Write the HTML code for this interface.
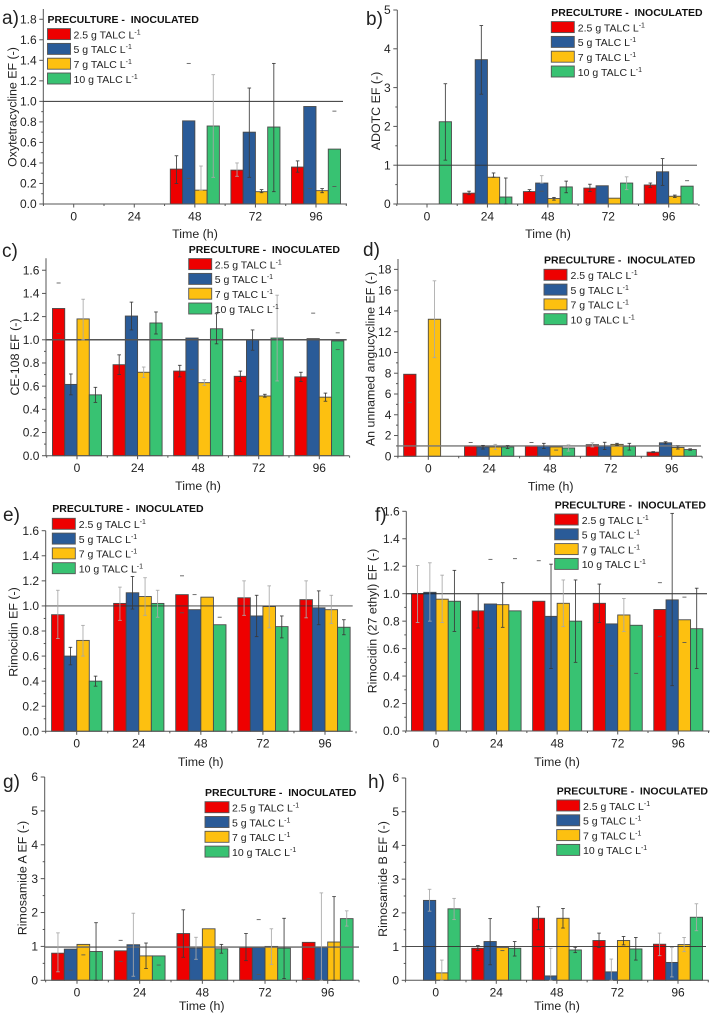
<!DOCTYPE html>
<html lang="en">
<head>
<meta charset="utf-8">
<title>Talc enhancement factors</title>
<style>
html,body{margin:0;padding:0;background:#fff}
svg{display:block;filter:blur(.35px)}
text{font-family:"Liberation Sans",Arial,sans-serif;fill:#222}
.letter{font-size:19px;fill:#222}
.ax{font-size:12.4px;text-anchor:middle}
.hd{font-size:10.5px;font-weight:bold;white-space:pre;fill:#111}
.en{font-size:10.5px;fill:#222}
.sup{font-size:7px}
.tk{font-size:12px}
.sw{stroke:#555;stroke-width:.9}
.r{fill:#ee0000}.b{fill:#2a5b98}.y{fill:#fdc010}.g{fill:#38c272}
</style>
</head>
<body>
<svg xmlns="http://www.w3.org/2000/svg" width="715" height="1016" viewBox="0 0 715 1016">
<rect width="715" height="1016" fill="#fff"/>

<g id="panel-a">
<text class="letter" x="2" y="24">a)</text>
<text class="ax" x="195" y="238">Time (h)</text>
<text class="ax" transform="translate(16.5,107) rotate(-90)">Oxytetracycline EF (-)</text>
<g transform="translate(47.5,19)">
<text class="hd" x="0" y="4">PRECULTURE -  INOCULATED</text>
<rect class="sw r" x="0" y="9.6" width="23" height="11"/><text class="en" x="26" y="19.4">2.5 g TALC L<tspan class="sup" dy="-4">-1</tspan></text>
<rect class="sw b" x="0" y="24.4" width="23" height="11"/><text class="en" x="26" y="34.2">5 g TALC L<tspan class="sup" dy="-4">-1</tspan></text>
<rect class="sw y" x="0" y="39.2" width="23" height="11"/><text class="en" x="26" y="49">7 g TALC L<tspan class="sup" dy="-4">-1</tspan></text>
<rect class="sw g" x="0" y="54" width="23" height="11"/><text class="en" x="26" y="63.8">10 g TALC L<tspan class="sup" dy="-4">-1</tspan></text>
</g>
</g>

<g id="panel-b">
<text class="letter" x="366" y="25">b)</text>
<text class="ax" x="548" y="238">Time (h)</text>
<text class="ax" transform="translate(380,111) rotate(-90)">ADOTC EF (-)</text>
<g transform="translate(551.3,12)">
<text class="hd" x="0" y="4">PRECULTURE -  INOCULATED</text>
<rect class="sw r" x="0" y="9.6" width="23" height="11"/><text class="en" x="26.5" y="19.4">2.5 g TALC L<tspan class="sup" dy="-4">-1</tspan></text>
<rect class="sw b" x="0" y="24.4" width="23" height="11"/><text class="en" x="26.5" y="34.2">5 g TALC L<tspan class="sup" dy="-4">-1</tspan></text>
<rect class="sw y" x="0" y="39.2" width="23" height="11"/><text class="en" x="26.5" y="49">7 g TALC L<tspan class="sup" dy="-4">-1</tspan></text>
<rect class="sw g" x="0" y="54" width="23" height="11"/><text class="en" x="26.5" y="63.8">10 g TALC L<tspan class="sup" dy="-4">-1</tspan></text>
</g>
</g>

<g id="panel-c">
<text class="letter" x="2" y="257">c)</text>
<text class="ax" x="198" y="490">Time (h)</text>
<text class="ax" transform="translate(19,357) rotate(-90)">CE-108 EF (-)</text>
<g transform="translate(188.7,249)">
<text class="hd" x="0" y="4">PRECULTURE -  INOCULATED</text>
<rect class="sw r" x="0" y="9.6" width="23" height="11"/><text class="en" x="26" y="19.4">2.5 g TALC L<tspan class="sup" dy="-4">-1</tspan></text>
<rect class="sw b" x="0" y="24.4" width="23" height="11"/><text class="en" x="26" y="34.2">5 g TALC L<tspan class="sup" dy="-4">-1</tspan></text>
<rect class="sw y" x="0" y="39.2" width="23" height="11"/><text class="en" x="26" y="49">7 g TALC L<tspan class="sup" dy="-4">-1</tspan></text>
<rect class="sw g" x="0" y="54" width="23" height="11"/><text class="en" x="26" y="63.8">10 g TALC L<tspan class="sup" dy="-4">-1</tspan></text>
</g>
</g>

<g id="panel-d">
<text class="letter" x="363" y="256">d)</text>
<text class="ax" x="550.7" y="490.5">Time (h)</text>
<text class="ax" transform="translate(374.5,359) rotate(-90)">An unnamed angucycline EF (-)</text>
<g transform="translate(544,259.7)">
<text class="hd" x="0" y="4">PRECULTURE -  INOCULATED</text>
<rect class="sw r" x="0" y="9.6" width="23" height="11"/><text class="en" x="26.5" y="19.4">2.5 g TALC L<tspan class="sup" dy="-4">-1</tspan></text>
<rect class="sw b" x="0" y="24.4" width="23" height="11"/><text class="en" x="26.5" y="34.2">5 g TALC L<tspan class="sup" dy="-4">-1</tspan></text>
<rect class="sw y" x="0" y="39.2" width="23" height="11"/><text class="en" x="26.5" y="49">7 g TALC L<tspan class="sup" dy="-4">-1</tspan></text>
<rect class="sw g" x="0" y="54" width="23" height="11"/><text class="en" x="26.5" y="63.8">10 g TALC L<tspan class="sup" dy="-4">-1</tspan></text>
</g>
</g>

<g id="panel-e">
<text class="letter" x="3" y="521">e)</text>
<text class="ax" x="200.7" y="766">Time (h)</text>
<text class="ax" transform="translate(17.5,632) rotate(-90)">Rimocidin EF (-)</text>
<g transform="translate(52.3,508)">
<text class="hd" x="0" y="4">PRECULTURE -  INOCULATED</text>
<rect class="sw r" x="0" y="10.3" width="23" height="11"/><text class="en" x="26.5" y="20">2.5 g TALC L<tspan class="sup" dy="-4">-1</tspan></text>
<rect class="sw b" x="0" y="25.1" width="23" height="11"/><text class="en" x="26.5" y="34.8">5 g TALC L<tspan class="sup" dy="-4">-1</tspan></text>
<rect class="sw y" x="0" y="39.9" width="23" height="11"/><text class="en" x="26.5" y="49.6">7 g TALC L<tspan class="sup" dy="-4">-1</tspan></text>
<rect class="sw g" x="0" y="54.7" width="23" height="11"/><text class="en" x="26.5" y="64.4">10 g TALC L<tspan class="sup" dy="-4">-1</tspan></text>
</g>
</g>

<g id="panel-f">
<text class="letter" x="375" y="521">f)</text>
<text class="ax" x="557" y="766">Time (h)</text>
<text class="ax" transform="translate(376.5,621) rotate(-90)">Rimocidin (27 ethyl) EF (-)</text>
<g transform="translate(554.7,504.3)">
<text class="hd" x="0" y="4">PRECULTURE -  INOCULATED</text>
<rect class="sw r" x="0" y="9.7" width="23.5" height="11"/><text class="en" x="27" y="19.5">2.5 g TALC L<tspan class="sup" dy="-4">-1</tspan></text>
<rect class="sw b" x="0" y="24.5" width="23.5" height="11"/><text class="en" x="27" y="34.3">5 g TALC L<tspan class="sup" dy="-4">-1</tspan></text>
<rect class="sw y" x="0" y="39.3" width="23.5" height="11"/><text class="en" x="27" y="49.1">7 g TALC L<tspan class="sup" dy="-4">-1</tspan></text>
<rect class="sw g" x="0" y="54.1" width="23.5" height="11"/><text class="en" x="27" y="63.9">10 g TALC L<tspan class="sup" dy="-4">-1</tspan></text>
</g>
</g>

<g id="panel-g">
<text class="letter" x="3" y="788">g)</text>
<text class="ax" x="201.7" y="1010">Time (h)</text>
<text class="ax" transform="translate(26.5,878) rotate(-90)">Rimosamide A EF (-)</text>
<g transform="translate(205,792)">
<text class="hd" x="0" y="4">PRECULTURE -  INOCULATED</text>
<rect class="sw r" x="0" y="9.7" width="24" height="11"/><text class="en" x="27" y="19.5">2.5 g TALC L<tspan class="sup" dy="-4">-1</tspan></text>
<rect class="sw b" x="0" y="24.5" width="24" height="11"/><text class="en" x="27" y="34.3">5 g TALC L<tspan class="sup" dy="-4">-1</tspan></text>
<rect class="sw y" x="0" y="39.3" width="24" height="11"/><text class="en" x="27" y="49.1">7 g TALC L<tspan class="sup" dy="-4">-1</tspan></text>
<rect class="sw g" x="0" y="54.1" width="24" height="11"/><text class="en" x="27" y="63.9">10 g TALC L<tspan class="sup" dy="-4">-1</tspan></text>
</g>
</g>

<g id="panel-h">
<text class="letter" x="368" y="788">h)</text>
<text class="ax" x="557" y="1010">Time (h)</text>
<text class="ax" transform="translate(387,879) rotate(-90)">Rimosamide B EF (-)</text>
<g transform="translate(556.7,790.7)">
<text class="hd" x="0" y="4">PRECULTURE -  INOCULATED</text>
<rect class="sw r" x="0" y="9.3" width="23" height="11"/><text class="en" x="26.3" y="19.1">2.5 g TALC L<tspan class="sup" dy="-4">-1</tspan></text>
<rect class="sw b" x="0" y="24.1" width="23" height="11"/><text class="en" x="26.3" y="33.9">5 g TALC L<tspan class="sup" dy="-4">-1</tspan></text>
<rect class="sw y" x="0" y="38.9" width="23" height="11"/><text class="en" x="26.3" y="48.7">7 g TALC L<tspan class="sup" dy="-4">-1</tspan></text>
<rect class="sw g" x="0" y="53.7" width="23" height="11"/><text class="en" x="26.3" y="63.5">10 g TALC L<tspan class="sup" dy="-4">-1</tspan></text>
</g>
</g>
</svg>

<script>
const _ = null;
const categories = ['0', '24', '48', '72', '96'];
const seriesNames = ['2-5g', '5g', '7g', '10g'];
const seriesColors = ['#ee0000', '#2a5b98', '#fdc010', '#38c272'];

const aTicks = ['0.0','0.2','0.4','0.6','0.8','1.0','1.2','1.4','1.6','1.8'];
const aVal = [[_,_,.34,.33,.36],[_,_,.81,.70,.95],[_,_,.135,.12,.13],[_,_,.76,.75,.535]];
const aHigh = [[_,_,.47,.40,.42],[_,_,_,1.13,_],[_,_,.37,.14,.15],[_,_,1.26,1.37,_]];
const aLow = [[_,_,.2,.27,.31],[_,_,_,.26,_],[_,_,.135,.11,.11],[_,_,.26,.12,_]];
const aDash = [[1,2,1.37],[1,2,.25],[3,4,.905],[1,4,.15],[3,4,.17]];
const aFaint = [[2,2],[3,2],[0,3]];

const bTicks = ['0','1','2','3','4','5'];
const bVal = [[_,.28,.32,.41,.49],[_,3.72,.54,.47,.83],[_,.69,.14,.15,.2],[2.12,.18,.44,.54,.46]];
const bHigh = [[_,.33,.37,.51,.54],[_,4.6,.73,_,1.17],[_,.8,.17,_,.23],[3.1,.67,.59,.7,_]];
const bLow = [[_,.24,_,.32,.43],[_,2.83,_,_,.48],[_,_,.1,_,.17],[1.13,0,.29,.37,_]];
const bDash = [[1,2,.33],[3,4,.6]];
const bFaint = [[1,2],[3,3]];

const cTicks = ['0.0','0.2','0.4','0.6','0.8','1.0','1.2','1.4','1.6'];
const cVal = [[1.27,.785,.73,.685,.68],[.615,1.205,1.015,1.0,1.01],[1.18,.72,.63,.515,.505],[.525,1.145,1.095,1.015,.99]];
const cHigh = [[_,.87,.78,.73,.72],[.705,1.325,_,1.085,_],[1.35,.765,.655,.53,.54],[.59,1.24,1.225,1.385,_]];
const cLow = [[_,.70,.68,.64,.64],[.525,1.085,_,.91,_],[1.0,.675,.605,.505,.47],[.46,1.05,.965,.645,_]];
const cDash = [[0,0,1.49],[0,0,1.055],[1,2,.745],[1,4,1.23],[3,4,1.06],[3,4,.915]];
const cFaint = [[2,0],[2,1],[2,2],[3,3]];

const dTicks = ['0','2','4','6','8','10','12','14','16','18'];
const dVal = [[7.9,1.0,1.0,1.12,.4],[_,.9,1.0,1.0,1.3],[13.2,.9,.9,1.15,.85],[_,.9,.8,.95,.65]];
const dHigh = [[_,_,_,1.3,.45],[_,1.05,1.25,1.35,1.4],[16.9,1.15,_,1.25,1.0],[_,1.03,1.1,1.25,.72]];
const dLow = [[_,_,_,.9,.35],[_,.7,.75,.65,1.2],[9.5,.65,_,1.05,.7],[_,.75,.5,.6,.58]];
const dDash = [[0,0,5.2],[0,1,1.33],[0,2,1.33],[2,2,.6]];
const dFaint = [[2,0],[2,1],[3,2],[0,3]];

const eTicks = ['0.0','0.2','0.4','0.6','0.8','1.0','1.2','1.4','1.6'];
const eVal = [[.93,1.02,1.09,1.065,1.05],[.6,1.105,.97,.92,.985],[.725,1.075,1.07,.995,.97],[.4,1.02,.85,.835,.83]];
const eHigh = [[1.125,1.15,_,1.2,1.2],[.67,1.235,_,1.085,1.12],[.845,1.225,_,1.16,1.085],[.44,1.125,_,.92,.89]];
const eLow = [[.74,.885,_,.925,.905],[.53,.975,_,.755,.85],[.6,.925,_,.825,.86],[.36,.91,_,.745,.77]];
const eDash = [[0,2,1.24],[0,2,.945],[1,2,1.09],[3,2,.91]];
const eFaint = [[0,0],[2,0],[2,1],[3,1],[0,1],[0,3],[2,3],[0,4],[2,4]];

const fTicks = ['0.0','0.2','0.4','0.6','0.8','1.0','1.2','1.4','1.6'];
const fVal = [[1.0,.875,.945,.93,.885],[1.01,.925,.835,.78,.955],[.96,.92,.93,.845,.81],[.945,.875,.8,.77,.745]];
const fHigh = [[1.205,1.0,_,1.07,_],[1.225,_,1.215,_,1.585],[1.135,1.08,1.1,.965,_],[1.17,_,1.1,_,1.04]];
const fLow = [[.79,.75,_,.79,_],[.8,_,.455,_,.33],[.79,.755,.76,.725,_],[.725,_,.5,_,.455]];
const fDash = [[1,1,1.25],[1,1,.6],[3,1,1.255],[0,2,1.24],[1,3,.475],[3,3,.42],[0,4,1.08],[0,4,.69],[2,4,.975],[2,4,.645]];
const fFaint = [[0,0],[1,0],[2,0],[2,2],[2,3]];

const gTicks = ['0','1','2','3','4','5','6'];
const gVal = [[.8,.87,1.38,.97,1.12],[.92,1.05,.95,.97,.97],[1.06,.72,1.52,1.0,1.13],[.85,.72,.93,.95,1.82]];
const gHigh = [[1.4,_,2.08,1.38,_],[_,1.98,1.27,_,2.58],[_,1.1,_,1.52,2.47],[1.7,_,1.06,1.83,2.05]];
const gLow = [[.25,_,.68,.58,_],[_,.12,.62,_,0],[_,.35,_,.47,0],[0,_,.8,.05,1.6]];
const gDash = [[1,0,.3],[2,0,.75],[0,1,1.18],[0,1,.56],[3,1,.45],[1,3,1.79],[1,3,.17],[0,4,.05]];
const gFaint = [[0,0],[1,1],[1,2],[2,3],[1,4],[3,4]];

const hTicks = ['0','1','2','3','4','5','6'];
const hVal = [[_,.95,1.84,1.18,1.07],[2.37,1.15,.13,.25,.53],[.22,.97,1.84,1.18,1.06],[2.12,.95,.9,.93,1.87]];
const hHigh = [[_,1.03,2.18,1.4,1.4],[2.7,1.83,.95,.63,.97],[.6,_,2.13,1.3,1.27],[2.43,1.15,.98,1.27,2.27]];
const hLow = [[_,.88,1.5,.97,.73],[2.05,.46,0,0,.1],[0,_,1.55,1.05,.85],[1.8,.72,.82,.6,1.47]];
const hDash = [[2,1,.88],[1,2,.1]];
const hFaint = [[1,0],[3,0],[1,2],[1,3],[1,4],[0,4],[2,0],[3,4],[2,4]];

const panels = [
  { id:'a', val:aVal, high:aHigh, low:aLow, dash:aDash, faint:aFaint, ticks:aTicks, minorEvery:.1, x0:43.3, xEnd:347, base:204, top:9, topVal:1.9, first:73.7, last:316, refEnd:343, refW:.9, ref:1, refC:'#333' },
  { id:'b', val:bVal, high:bHigh, low:bLow, dash:bDash, faint:bFaint, ticks:bTicks, minorEvery:.5, x0:397.3, xEnd:698, base:204, top:10, topVal:5, first:427, last:668.7, refEnd:697, refW:.9, ref:1, refC:'#333' },
  { id:'c', val:cVal, high:cHigh, low:cLow, dash:cDash, faint:cFaint, ticks:cTicks, minorEvery:.1, x0:46, xEnd:349.3, base:455.7, top:258.3, topVal:1.703, first:77, last:319.3, refEnd:346.7, refW:1.5, ref:1, refC:'#555' },
  { id:'d', val:dVal, high:dHigh, low:dLow, dash:dDash, faint:dFaint, ticks:dTicks, minorEvery:1, x0:398, xEnd:702, base:456.3, top:259, topVal:19, first:428.3, last:671.7, refEnd:701, refW:1.4, ref:1, refC:'#777' },
  { id:'e', val:eVal, high:eHigh, low:eLow, dash:eDash, faint:eFaint, ticks:eTicks, minorEvery:.1, x0:45.7, xEnd:352.7, base:731.3, top:530.7, topVal:1.6, first:76.7, last:325, refEnd:352.7, refW:.9, ref:1, refC:'#333' },
  { id:'f', val:fVal, high:fHigh, low:fLow, dash:fDash, faint:fFaint, ticks:fTicks, minorEvery:.1, x0:406.3, xEnd:709.7, base:731, top:511.3, topVal:1.6, first:436, last:678.3, refEnd:707, refW:1, ref:1, refC:'#222' },
  { id:'g', val:gVal, high:gHigh, low:gLow, dash:gDash, faint:gFaint, ticks:gTicks, minorEvery:.5, x0:44.7, xEnd:359, base:980.3, top:777, topVal:6, first:77, last:327.7, refEnd:359, refW:1.4, ref:.98, refC:'#666' },
  { id:'h', val:hVal, high:hHigh, low:hLow, dash:hDash, faint:hFaint, ticks:hTicks, minorEvery:.5, x0:405.7, xEnd:708.7, base:980.3, top:778, topVal:6, first:435.7, last:678, refEnd:706, refW:.9, ref:1, refC:'#333' }
];

const NS = 'http://www.w3.org/2000/svg';
function make(tag, parent, attrs) {
  const node = document.createElementNS(NS, tag);
  for (const k in attrs) node.setAttribute(k, attrs[k]);
  parent.appendChild(node);
  return node;
}
function xScale(p, i) { return p.first + i * (p.last - p.first) / (categories.length - 1); }
function yScale(p, v) { return p.base - v * (p.base - p.top) / p.topVal; }
function barWidth(p) { return 0.81 * (p.last - p.first) / (categories.length - 1) / seriesNames.length; }
function barCenter(p, s, i) { return xScale(p, i) + (s - (seriesNames.length - 1) / 2) * barWidth(p); }
function isFaint(p, s, i) { return p.faint.some(function (f) { return f[0] === s && f[1] === i; }); }

function drawBars(p, g) {
  const w = barWidth(p);
  p.val.forEach(function (row, s) {
    row.forEach(function (v, i) {
      if (v === null) return;
      const el = make('rect', g, { x: barCenter(p, s, i) - w / 2, y: yScale(p, v), width: w, height: p.base - yScale(p, v), fill: seriesColors[s], stroke: '#4a4a4a', 'stroke-width': .9 });
      
      
    });
  });
}
function drawErrors(p, g) {
  p.val.forEach(function (row, s) {
    row.forEach(function (v, i) {
      const hi = p.high[s][i], lo = p.low[s][i];
      if (hi === null && lo === null) return;
      const top = hi === null ? v : hi, bot = lo === null ? v : lo;
      const cx = barCenter(p, s, i);
      const col = isFaint(p, s, i) ? '#a8a8a8' : '#3a3a3a';
      const eg = make('g', g, { stroke: col, 'stroke-width': .85, fill: 'none' });
      
      
      make('line', eg, { x1: cx, x2: cx, y1: yScale(p, top), y2: yScale(p, bot) });
      make('line', eg, { x1: cx - 1.8, x2: cx + 1.8, y1: yScale(p, top), y2: yScale(p, top) });
      make('line', eg, { x1: cx - 1.8, x2: cx + 1.8, y1: yScale(p, bot), y2: yScale(p, bot) });
    });
  });
  p.dash.forEach(function (d) {
    const cx = barCenter(p, d[0], d[1]);
    const y = yScale(p, d[2]);
    const el = make('line', g, { x1: cx - 2, x2: cx + 2, y1: y, y2: y, stroke: '#555', 'stroke-width': .85 });
    
    
  });
}
function drawRef(p, g) {
  const y = yScale(p, p.ref);
  const el = make('line', g, { x1: p.x0, x2: p.refEnd, y1: y, y2: y, stroke: p.refC, 'stroke-width': p.refW });
  
  
}
function drawAxes(p, g) {
  const ax = make('g', g, { stroke: '#555', 'stroke-width': 1, fill: 'none' });
  
  
  make('line', ax, { x1: p.x0, x2: p.x0, y1: p.top, y2: p.base + .5 });
  make('line', ax, { x1: p.x0, x2: p.xEnd, y1: p.base, y2: p.base });
  categories.forEach(function (c, i) {
    const x = xScale(p, i);
    make('line', ax, { x1: x, x2: x, y1: p.base, y2: p.base + 3.5 });
    const half = (p.last - p.first) / (categories.length - 1) / 2;
    make('line', ax, { x1: x - half, x2: x - half, y1: p.base, y2: p.base + 2 });
    if (i === categories.length - 1) make('line', ax, { x1: x + half, x2: x + half, y1: p.base, y2: p.base + 2 });
    const t = make('text', g, { class: 'tk', x: x, y: p.base + 16.3, 'text-anchor': 'middle' });
    t.textContent = c;
    
    
  });
  p.ticks.forEach(function (label) {
    const v = parseFloat(label);
    const y = yScale(p, v);
    make('line', ax, { x1: p.x0 - 4, x2: p.x0, y1: y, y2: y });
    const t = make('text', g, { class: 'tk', x: p.x0 - 6.6, y: y + 4.2, 'text-anchor': 'end' });
    t.textContent = label;
    
    
  });
  const max = parseFloat(p.ticks[p.ticks.length - 1]);
  for (let k = 1; k * p.minorEvery * 2 <= max + p.minorEvery * 2; k += 2) {
    const v = k * p.minorEvery;
    if (v > p.topVal) break;
    const y = yScale(p, v);
    make('line', ax, { x1: p.x0 - 2, x2: p.x0, y1: y, y2: y });
  }
}

panels.forEach(function (p) {
  const root = document.getElementById('panel-' + p.id);
  const marks = document.createElementNS(NS, 'g');
  
  
  root.insertBefore(marks, root.firstChild);
  drawBars(p, marks);
  drawAxes(p, marks);
  drawRef(p, marks);
  drawErrors(p, marks);
});
</script>
</body>
</html>
